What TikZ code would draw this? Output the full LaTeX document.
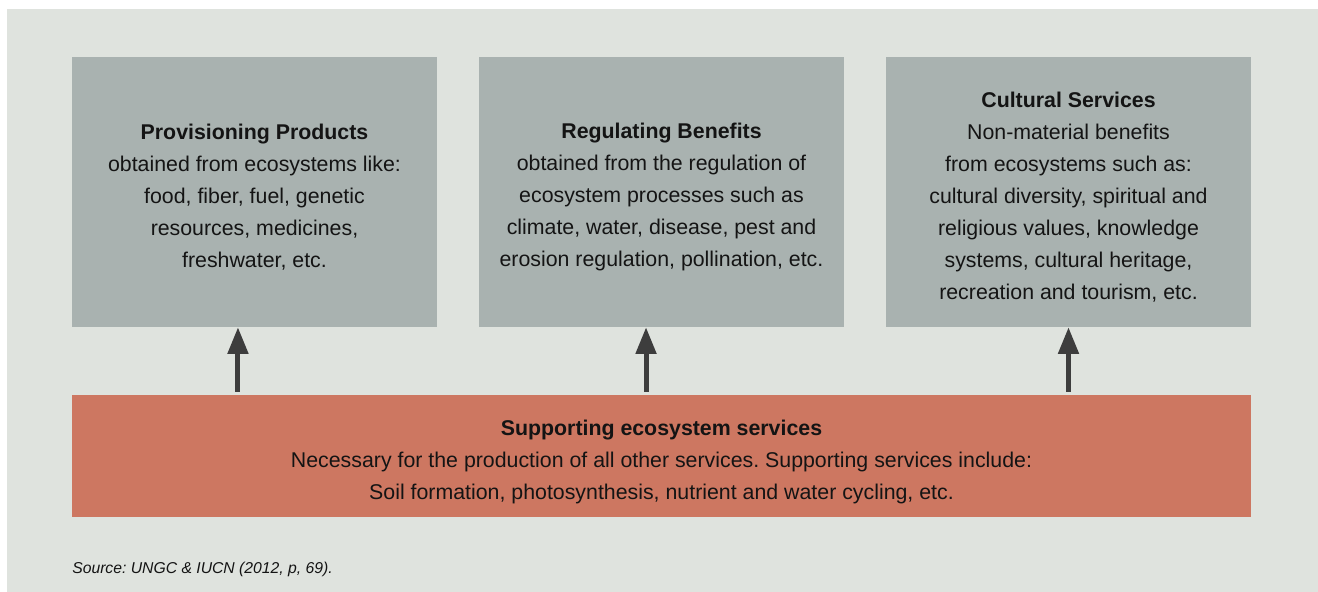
\documentclass[tikz,border=0pt]{standalone}
\usepackage{fontspec}
\setmainfont{Liberation Sans}
\frenchspacing
\usetikzlibrary{positioning,arrows.meta}

\definecolor{bgcol}{HTML}{DFE3DE}
\definecolor{boxcol}{HTML}{A9B2B0}
\definecolor{supcol}{HTML}{CD7761}
\definecolor{arrcol}{HTML}{3D3D3D}
\definecolor{txtcol}{HTML}{141414}

\tikzset{
  servicebox/.style={fill=boxcol, inner sep=0pt, minimum width=273.75pt, minimum height=202.5pt},
  supbox/.style={fill=supcol, inner sep=0pt, minimum width=884.25pt, minimum height=91.5pt},
  boxtext/.style={inner sep=0pt, align=center, text=txtcol, font=\fontsize{16}{24}\selectfont},
  uparrow/.style={draw=arrcol, line width=3.75pt, -{Triangle[length=20pt,width=15pt]}, shorten <=2.25pt}
}

\begin{document}
\begin{tikzpicture}[x=0.75pt,y=-0.75pt]
\useasboundingbox (0,0) rectangle (1318,592);
\fill[bgcol] (7,9) rectangle (1318,592);

\node[servicebox] (prov) at (254.5,192) {};
\node[servicebox] (regul) at (661.5,192) {};
\node[servicebox] (cult) at (1068.5,192) {};
\node[supbox] (sup) at (661.5,456) {};

\node[boxtext] (provtext) at ([yshift=-3.75pt]prov.center) {\textbf{Provisioning Products}\\obtained from ecosystems like:\\food, fiber, fuel, genetic\\resources, medicines,\\freshwater, etc.};
\node[boxtext] (regultext) at ([yshift=-3.75pt]regul.center) {\textbf{Regulating Benefits}\\obtained from the regulation of\\ecosystem processes such as\\climate, water, disease, pest and\\erosion regulation, pollination, etc.};
\node[boxtext] (culttext) at ([yshift=-3.75pt]cult.center) {\textbf{Cultural Services}\\Non-material benefits\\from ecosystems such as:\\cultural diversity, spiritual and\\religious values, knowledge\\systems, cultural heritage,\\recreation and tourism, etc.};
\node[boxtext] (suptext) at ([yshift=-4.5pt]sup.center) {\textbf{Supporting ecosystem services}\\Necessary for the production of all other services. Supporting services include:\\Soil formation, photosynthesis, nutrient and water cycling, etc.};

\draw[uparrow] ([xshift=-12.4pt]prov.south |- sup.north) -- ([xshift=-12.4pt]prov.south);
\draw[uparrow] ([xshift=-11.6pt]regul.south |- sup.north) -- ([xshift=-11.6pt]regul.south);
\draw[uparrow] (cult.south |- sup.north) -- (cult.south);

\node[anchor=west, inner sep=0pt, text=txtcol, font=\fontsize{11.8}{14}\selectfont\itshape] (src) at (72,569.5) {Source: UNGC \& IUCN (2012, p, 69).};
\end{tikzpicture}
\end{document}
